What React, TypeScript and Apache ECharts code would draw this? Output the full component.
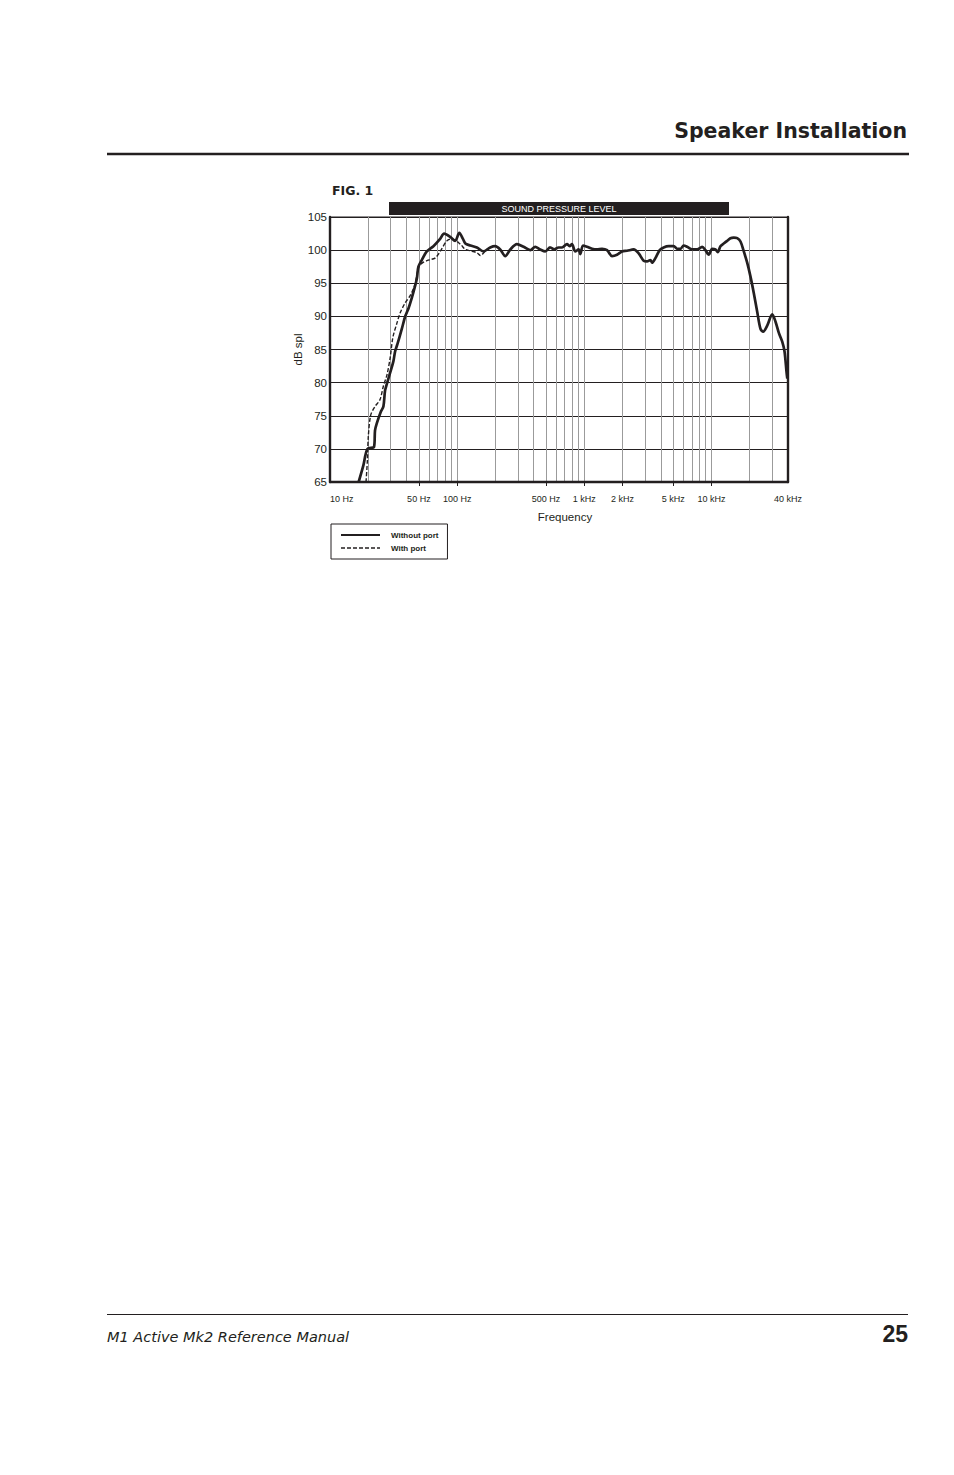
import { useEffect, useRef } from 'react';
import * as echarts from 'echarts';

const INK = '#231f20';
const GRID_GREY = '#9b9b9b';
const FONT = 'Liberation Sans';

// Fig. 1 frequency response (Hz -> dB spl)
const WITHOUT_PORT_HZ = [
  16.8, 18.3, 19.7, 22.2, 22.6, 23.3, 25.1, 26.3, 27.1, 28.0, 29.3, 31.5, 32.5, 33.9, 36.7, 38.9,
  41.4, 44.0, 46.7, 48.2, 49.6, 52.7, 57.7, 65.1, 73.5, 79.0, 88.1, 96.4, 104, 111, 116, 127,
  143, 161, 182, 199, 218, 239, 262, 295, 333, 376, 411, 450, 493, 540, 580, 628,
  668, 731, 766, 800, 849, 902, 930, 977, 1050, 1150, 1259, 1378, 1509, 1652, 1809, 1981,
  2169, 2445, 2677, 2931, 3116, 3309, 3414, 3624, 3917, 4211, 4611, 5048, 5370, 5700, 6052, 6436,
  7047, 7716, 8451, 8969, 9521, 10130, 10750, 11210, 11770, 12500, 13290, 14110, 14980, 15940, 16920, 17970,
  19100, 20280, 21540, 22900, 24310, 25530, 27450, 30060, 31910, 33880, 36030, 37570, 38960, 39500,
];
const WITHOUT_PORT_DB = [
  65.0, 67.5, 70.0, 70.3, 72.8, 73.8, 75.6, 76.4, 78.8, 79.8, 81.1, 83.2, 84.7, 85.8, 88.1, 89.9,
  91.2, 92.8, 94.6, 95.7, 97.5, 98.5, 99.8, 100.6, 101.7, 102.5, 102.0, 101.4, 102.6, 101.7, 101.0, 100.7,
  100.4, 99.8, 100.4, 100.6, 100.1, 99.1, 100.1, 100.9, 100.5, 100.0, 100.5, 100.1, 99.8, 100.4, 100.1, 100.4,
  100.4, 100.9, 100.6, 100.9, 99.8, 100.1, 99.4, 100.7, 100.5, 100.2, 100.1, 100.2, 100.0, 99.1, 99.3, 99.8,
  99.9, 100.1, 99.5, 98.4, 98.3, 98.5, 98.1, 98.8, 100.0, 100.4, 100.6, 100.6, 100.2, 100.2, 100.7, 100.5,
  100.1, 100.1, 100.5, 100.0, 99.3, 100.2, 100.1, 99.7, 100.6, 101.0, 101.4, 101.8, 101.9, 101.8, 101.3, 99.8,
  98.1, 96.0, 93.5, 90.7, 88.1, 87.7, 88.6, 90.3, 89.2, 87.5, 86.2, 84.7, 81.6, 80.6,
];
const WITH_PORT_HZ = [
  19.2, 19.7, 20.0, 20.9, 22.6, 24.7, 26.3, 28.0, 29.7, 31.2, 33.5, 35.6, 38.9, 42.6, 45.8, 47.6,
  49.6, 52.7, 59.5, 67.0, 73.5, 83.0, 90.7, 106, 116, 127, 143, 152, 171, 182,
];
const WITH_PORT_DB = [
  65.0, 68.4, 71.8, 75.1, 76.4, 77.4, 79.5, 81.1, 83.7, 86.8, 88.9, 90.5, 92.0, 93.1, 94.4, 95.7,
  97.3, 98.0, 98.5, 98.8, 99.8, 101.4, 101.7, 100.9, 100.1, 99.9, 99.6, 99.2, 100.1, 100.4,
];

// log grid: 2..9 of every decade
const GRID_HZ = [
  20, 30, 40, 50, 60, 70, 80, 90, 100,
  200, 300, 400, 500, 600, 700, 800, 900, 1000,
  2000, 3000, 4000, 5000, 6000, 7000, 8000, 9000, 10000,
  20000, 30000,
];
const TICK_HZ = [50, 100, 500, 1000, 2000, 5000, 10000];
const LABEL_HZ = [10, 50, 100, 500, 1000, 2000, 5000, 10000, 40000];
const LABEL_TEXT = ['10 Hz', '50 Hz', '100 Hz', '500 Hz', '1 kHz', '2 kHz', '5 kHz', '10 kHz', '40 kHz'];

const SERIES_NAMES = ['Without port', 'With port'];

function hzLabel(v: number) {
  let best = 0;
  LABEL_HZ.forEach((f, i) => {
    if (Math.abs(Math.log10(f) - Math.log10(v)) < Math.abs(Math.log10(LABEL_HZ[best]) - Math.log10(v))) best = i;
  });
  return LABEL_TEXT[best];
}

export default function App() {
  const ref = useRef<HTMLDivElement | null>(null);

  useEffect(() => {
    if (!ref.current) return;
    const chart = echarts.init(ref.current, null, { renderer: 'svg' });

    chart.setOption({
      animation: false,
      textStyle: { fontFamily: FONT },
      title: {
        text: 'FIG. 1',
        left: 332,
        top: 184,
        padding: 0,
        textStyle: { fontFamily: 'DejaVu Sans', fontWeight: 'bold', fontSize: 12.5, color: INK },
      },
      legend: {
        left: 331,
        top: 524,
        orient: 'vertical',
        selectedMode: false,
        padding: [7, 9, 7, 9],
        itemGap: 5,
        itemWidth: 39,
        itemHeight: 8,
        borderColor: INK,
        borderWidth: 1,
        borderRadius: 0,
        textStyle: { fontSize: 8, fontWeight: 'bold', color: INK, padding: [0, 0, 0, 6] },
        data: [
          { name: SERIES_NAMES[0], lineStyle: { width: 2 }, itemStyle: { opacity: 0 } },
          { name: SERIES_NAMES[1], lineStyle: { width: 1.3 }, itemStyle: { opacity: 0 } },
        ],
      },
      grid: {
        left: 330,
        top: 217,
        width: 458,
        height: 265,
        show: true,
        borderColor: INK,
        borderWidth: 1,
      },
      xAxis: [
        {
          type: 'log',
          logBase: 10,
          min: 10,
          max: 40000,
          axisLine: { show: true, onZero: false, lineStyle: { color: INK, width: 2.4 } },
          axisTick: { show: false, customValues: GRID_HZ },
          axisLabel: { show: false },
          splitLine: { show: true, lineStyle: { color: GRID_GREY, width: 1 } },
        },
        {
          type: 'log',
          logBase: 10,
          min: 10,
          max: 40000,
          position: 'bottom',
          axisLine: { show: false },
          axisTick: { show: true, customValues: TICK_HZ, length: 4, lineStyle: { color: INK, width: 1 } },
          axisLabel: {
            customValues: LABEL_HZ,
            formatter: (v: number) => hzLabel(v),
            margin: 12,
            fontSize: 9,
            color: INK,
            alignMinLabel: 'left',
          },
          splitLine: { show: false },
          name: 'Frequency',
          nameLocation: 'middle',
          nameGap: 29,
          nameTextStyle: { fontSize: 11.5, color: INK, padding: [0, 0, 0, 12] },
        },
      ],
      yAxis: [
        {
          type: 'value',
          min: 65,
          max: 105,
          interval: 5,
          axisLine: { show: true, onZero: false, lineStyle: { color: INK, width: 2.4 } },
          axisTick: { show: false },
          axisLabel: { fontSize: 11.5, color: INK, margin: 3 },
          splitLine: { show: true, lineStyle: { color: INK, width: 1 } },
          name: 'dB spl',
          nameLocation: 'middle',
          nameGap: 22,
          nameTextStyle: { fontSize: 11.5, color: INK },
        },
        {
          type: 'value',
          min: 65,
          max: 105,
          position: 'right',
          axisLine: { show: true, lineStyle: { color: INK, width: 2.4 } },
          axisTick: { show: false },
          axisLabel: { show: false },
          splitLine: { show: false },
        },
      ],
      series: [
        {
          name: SERIES_NAMES[0],
          type: 'line',
          z: 3,
          symbol: 'none',
          smooth: 0.3,
          data: WITHOUT_PORT_HZ.map((f, i) => [f, WITHOUT_PORT_DB[i]]),
          lineStyle: { color: INK, width: 2.7 },
          itemStyle: { color: INK },
        },
        {
          name: SERIES_NAMES[1],
          type: 'line',
          z: 2,
          symbol: 'none',
          smooth: 0.3,
          data: WITH_PORT_HZ.map((f, i) => [f, WITH_PORT_DB[i]]),
          lineStyle: { color: INK, width: 1.4, type: [4, 2] },
          itemStyle: { color: INK },
        },
      ],
      graphic: [
        {
          type: 'text',
          x: 907,
          y: 131,
          style: {
            text: 'Speaker Installation',
            align: 'right',
            verticalAlign: 'middle',
            font: 'bold 20.5px "DejaVu Sans"',
            fill: INK,
          },
        },
        { type: 'line', shape: { x1: 107, y1: 154, x2: 909, y2: 154 }, style: { stroke: INK, lineWidth: 2.5 } },
        { type: 'rect', shape: { x: 389, y: 202, width: 340, height: 13 }, style: { fill: INK } },
        {
          type: 'text',
          x: 559,
          y: 208.5,
          style: {
            text: 'SOUND PRESSURE LEVEL',
            align: 'center',
            verticalAlign: 'middle',
            font: `9px "${FONT}"`,
            fill: '#fff',
          },
        },
        { type: 'line', shape: { x1: 107, y1: 1314.5, x2: 908, y2: 1314.5 }, style: { stroke: INK, lineWidth: 1 } },
        {
          type: 'text',
          x: 107,
          y: 1336.5,
          style: {
            text: 'M1 Active Mk2 Reference Manual',
            verticalAlign: 'middle',
            font: 'oblique 14.5px "DejaVu Sans"',
            fill: INK,
          },
        },
        {
          type: 'text',
          x: 908,
          y: 1334,
          style: {
            text: '25',
            align: 'right',
            verticalAlign: 'middle',
            font: `bold 23px "${FONT}"`,
            fill: INK,
          },
        },
      ],
    });

    return () => chart.dispose();
  }, []);

  return (
    <div
      ref={ref}
      style={{ position: 'absolute', left: 0, top: 0, width: 954, height: 1475, background: '#fff' }}
    />
  );
}
